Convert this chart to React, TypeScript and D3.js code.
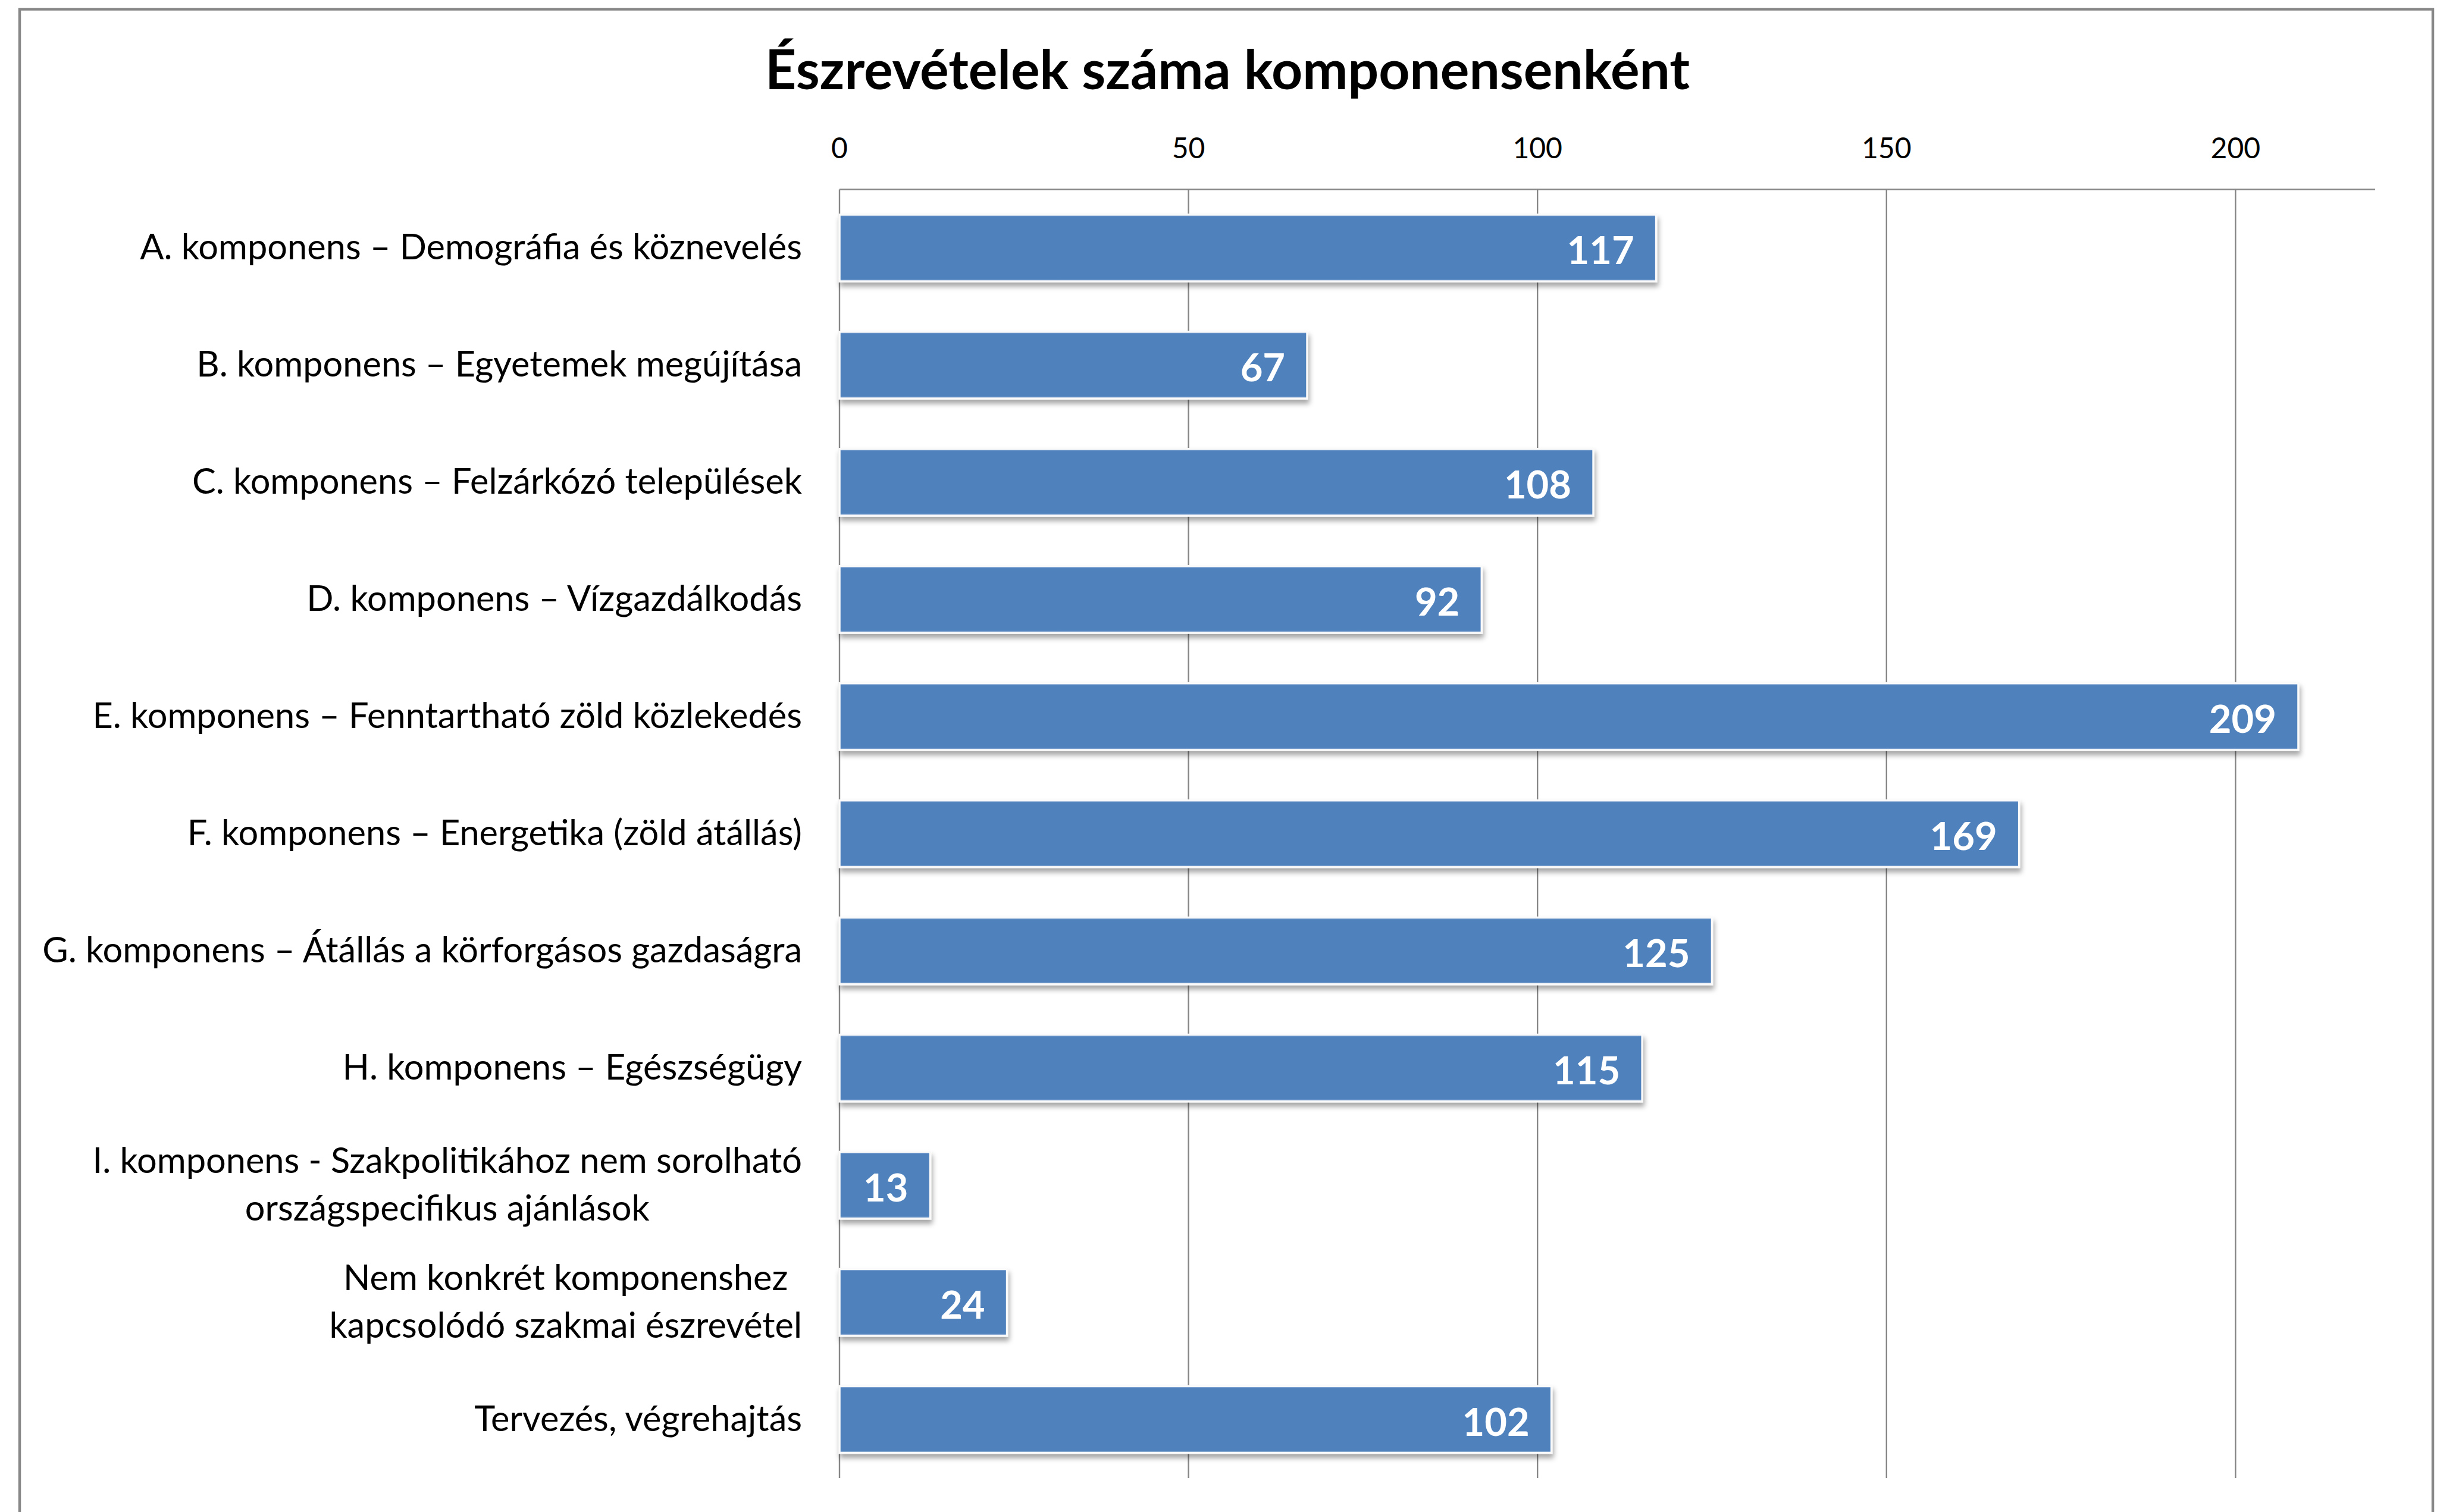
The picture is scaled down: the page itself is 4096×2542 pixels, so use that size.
import React, { useEffect, useRef } from 'react';
import * as d3 from 'd3';

const TITLE = 'Észrevételek száma komponensenként';

const categories = [
  'A. komponens – Demográfia és köznevelés',
  'B. komponens – Egyetemek megújítása',
  'C. komponens – Felzárkózó települések',
  'D. komponens – Vízgazdálkodás',
  'E. komponens – Fenntartható zöld közlekedés',
  'F. komponens – Energetika (zöld átállás)',
  'G. komponens – Átállás a körforgásos gazdaságra',
  'H. komponens – Egészségügy',
  'I. komponens - Szakpolitikához nem sorolható\nországspecifikus ajánlások',
  'Nem konkrét komponenshez\nkapcsolódó szakmai észrevétel',
  'Tervezés, végrehajtás',
];

const values = [117, 67, 108, 92, 209, 169, 125, 115, 13, 24, 102];

const tickValues = [0, 50, 100, 150, 200];
const xDomainMax = 220;

const W = 4096;
const H = 2542;
const FONT = 'Lato, "Open Sans", sans-serif';
const GRID = '#868686';

const plot = { left: 1411, right: 3992, top: 318.5, bottom: 2485 };

export default function App() {
  const svgRef = useRef<SVGSVGElement>(null);

  useEffect(() => {
    if (!svgRef.current) return;
    const svg = d3.select(svgRef.current);
    svg.selectAll('*').remove();

    const x = d3.scaleLinear().domain([0, xDomainMax]).range([plot.left, plot.right]);
    const y = d3
      .scaleBand<string>()
      .domain(categories)
      .range([plot.top, plot.bottom])
      .paddingInner(0.43)
      .paddingOuter(0.215);

    const defs = svg.append('defs');
    const grad = defs
      .append('linearGradient')
      .attr('id', 'barFill')
      .attr('x1', 0)
      .attr('x2', 0)
      .attr('y1', 0)
      .attr('y2', 1);
    [
      [0, '#86a8d4'],
      [0.035, '#4f81bd'],
      [0.965, '#4f81bd'],
      [1, '#b3c7e3'],
    ].forEach(([o, c]) => grad.append('stop').attr('offset', o as number).attr('stop-color', c as string));

    const shadow = defs
      .append('filter')
      .attr('id', 'barShadow')
      .attr('x', '-10%')
      .attr('y', '-30%')
      .attr('width', '130%')
      .attr('height', '180%');
    shadow
      .append('feDropShadow')
      .attr('dx', 2)
      .attr('dy', 7)
      .attr('stdDeviation', 4)
      .attr('flood-color', '#000')
      .attr('flood-opacity', 0.35);

    // chart frame
    svg
      .append('rect')
      .attr('x', 33)
      .attr('y', 15.5)
      .attr('width', 4056)
      .attr('height', 2600)
      .attr('fill', '#fff')
      .attr('stroke', '#888')
      .attr('stroke-width', 4.5);

    // title
    svg
      .append('text')
      .attr('x', 2063)
      .attr('y', 150)
      .attr('text-anchor', 'middle')
      .attr('font-family', FONT)
      .attr('font-weight', 700)
      .attr('font-size', 91)
      .attr('fill', '#000')
      .text(TITLE);

    // gridlines
    const grid = svg.append('g');
    grid
      .selectAll('line')
      .data(tickValues)
      .join('line')
      .attr('x1', (d) => x(d))
      .attr('x2', (d) => x(d))
      .attr('y1', plot.top)
      .attr('y2', plot.bottom)
      .attr('stroke', GRID)
      .attr('stroke-width', 2.4);

    grid
      .append('line')
      .attr('x1', x(0))
      .attr('x2', x(xDomainMax))
      .attr('y1', plot.top)
      .attr('y2', plot.top)
      .attr('stroke', GRID)
      .attr('stroke-width', 2.4);

    // tick labels
    svg
      .append('g')
      .selectAll('text')
      .data(tickValues)
      .join('text')
      .attr('x', (d) => x(d))
      .attr('y', 265.5)
      .attr('text-anchor', 'middle')
      .attr('font-family', FONT)
      .attr('font-size', 48)
      .attr('fill', '#000')
      .text((d) => String(d));

    // bars
    const bars = svg.append('g');
    bars
      .selectAll('rect')
      .data(values)
      .join('rect')
      .attr('x', x(0))
      .attr('y', (_, i) => y(categories[i])!)
      .attr('width', (d) => x(d) - x(0))
      .attr('height', y.bandwidth())
      .attr('fill', 'url(#barFill)')
      .attr('stroke', '#fafafa')
      .attr('stroke-width', 3.5)
      .attr('filter', 'url(#barShadow)');

    // value labels
    svg
      .append('g')
      .selectAll('text')
      .data(values)
      .join('text')
      .attr('x', (d) => x(d) - 37)
      .attr('y', (_, i) => y(categories[i])! + y.bandwidth() / 2 + 27)
      .attr('text-anchor', 'end')
      .attr('font-family', FONT)
      .attr('font-weight', 700)
      .attr('font-size', 65)
      .attr('fill', '#fff')
      .text((d) => String(d));

    // category labels, multi-line blocks centred on their widest line
    const labelRight = 1348;
    const lineStep = 80;
    const labels = svg.append('g');
    categories.forEach((cat) => {
      const lines = cat.split('\n');
      const cy = y(cat)! + y.bandwidth() / 2;
      const g = labels.append('g');
      const texts = lines.map((ln, j) =>
        g
          .append('text')
          .attr('y', cy + 19 + (j - (lines.length - 1) / 2) * lineStep)
          .attr('font-family', FONT)
          .attr('font-size', 59.5)
          .attr('fill', '#000')
          .attr('text-anchor', lines.length > 1 ? 'middle' : 'end')
          .text(ln)
      );
      if (lines.length > 1) {
        const maxW = d3.max(texts, (t) => (t.node() as SVGTextElement).getComputedTextLength()) ?? 0;
        texts.forEach((t) => t.attr('x', labelRight - maxW / 2));
      } else {
        texts[0].attr('x', labelRight);
      }
    });
  }, []);

  return (
    <svg
      ref={svgRef}
      width={W}
      height={H}
      style={{ position: 'absolute', left: 0, top: 0, display: 'block', background: '#fff' }}
    />
  );
}
